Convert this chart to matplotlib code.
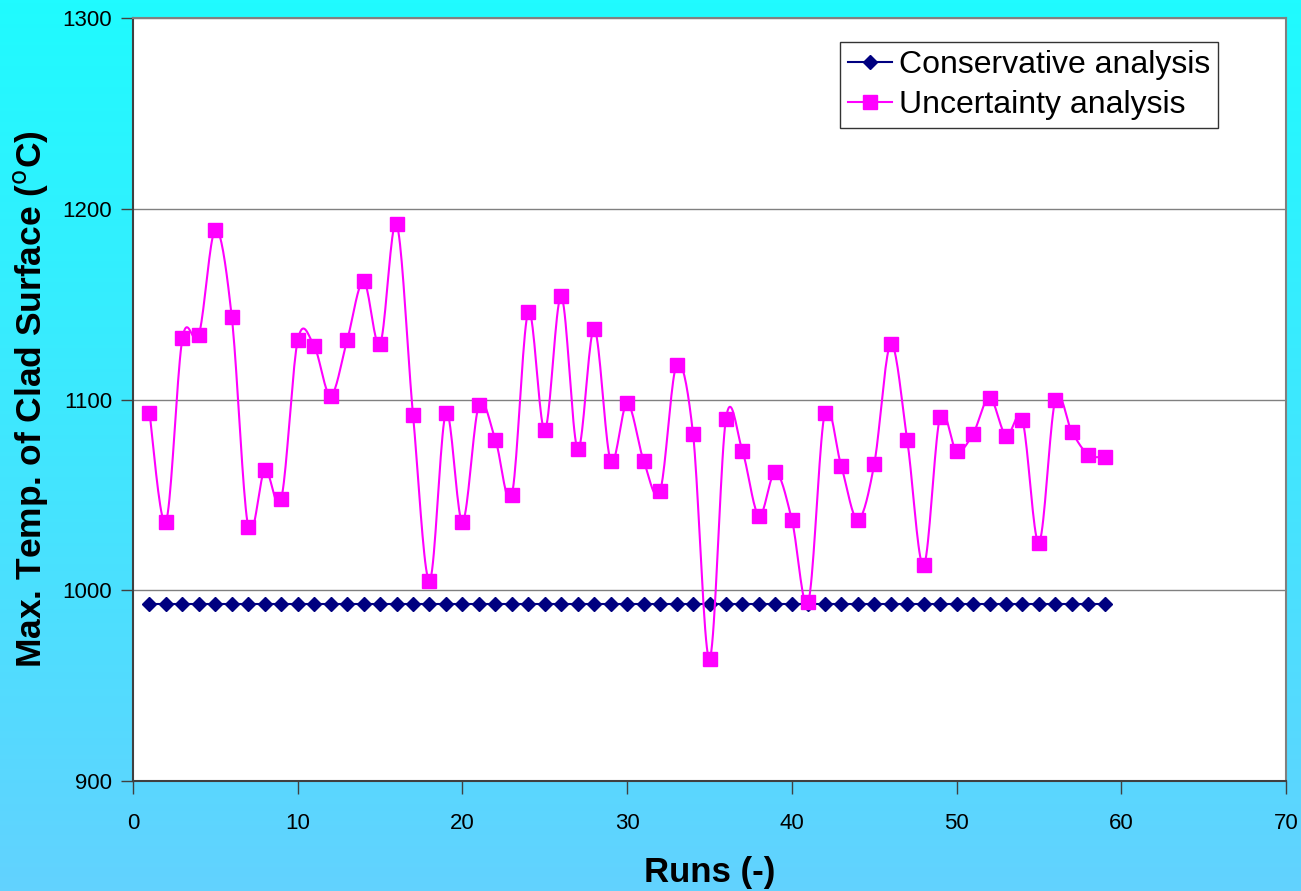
import numpy as np
import matplotlib.pyplot as plt
from matplotlib.colors import LinearSegmentedColormap

plt.rcParams['font.family'] = ['Liberation Sans', 'DejaVu Sans']

# run numbers and peak clad temperatures
runs = list(range(1, 60))
conservative = [993] * 59
uncertainty = [1093, 1036, 1132, 1134, 1189, 1143, 1033, 1063, 1048, 1131,
               1128, 1102, 1131, 1162, 1129, 1192, 1092, 1005, 1093, 1036,
               1097, 1079, 1050, 1146, 1084, 1154, 1074, 1137, 1068, 1098,
               1068, 1052, 1118, 1082, 964, 1090, 1073, 1039, 1062, 1037,
               994, 1093, 1065, 1037, 1066, 1129, 1079, 1013, 1091, 1073,
               1082, 1101, 1081, 1089, 1025, 1100, 1083, 1071, 1070]
xticks = [0, 10, 20, 30, 40, 50, 60, 70]
yticks = [900, 1000, 1100, 1200, 1300]


def smooth(x, y, n=20):
    # Catmull-Rom style bezier through every point (spreadsheet "smoothed line")
    x = np.asarray(x, float)
    y = np.asarray(y, float)
    px = np.concatenate([[x[0]], x, [x[-1]]])
    py = np.concatenate([[y[0]], y, [y[-1]]])
    t = np.linspace(0, 1, n)[:, None]
    xs, ys = [], []
    for i in range(1, len(px) - 2):
        p0 = np.array([px[i], py[i]])
        p3 = np.array([px[i + 1], py[i + 1]])
        c1 = p0 + (p3 - np.array([px[i - 1], py[i - 1]])) / 6
        c2 = p3 - (np.array([px[i + 2], py[i + 2]]) - p0) / 6
        pts = ((1 - t) ** 3) * p0 + 3 * ((1 - t) ** 2) * t * c1 \
            + 3 * (1 - t) * t ** 2 * c2 + t ** 3 * p3
        xs.append(pts[:, 0])
        ys.append(pts[:, 1])
    return np.concatenate(xs), np.concatenate(ys)


fig = plt.figure(figsize=(13.01, 8.91), dpi=100)

# background gradient, cyan at the top to light blue at the bottom
bg = fig.add_axes([0, 0, 1, 1], zorder=-10)
cmap = LinearSegmentedColormap.from_list('bg', ['#1ffbff', '#62d2fe'])
bg.imshow(np.linspace(0, 1, 256)[:, None], aspect='auto', cmap=cmap,
          extent=[0, 1, 0, 1])
bg.axis('off')

ax = fig.add_axes([133 / 1301, 110 / 891, 1153 / 1301, 763 / 891])
ax.set_facecolor('white')

ax.plot(runs, conservative, color='#000080', lw=1.5, marker='D', ms=7.5,
        label='Conservative analysis')
sx, sy = smooth(runs, uncertainty)
ax.plot(sx, sy, color='#ff00ff', lw=1.5)
ax.plot(runs, uncertainty, ls='none', color='#ff00ff', marker='s', ms=9.5)
ax.plot([], [], color='#ff00ff', lw=1.5, marker='s', ms=9.5,
        label='Uncertainty analysis')

ax.set_xlim(0, 70)
ax.set_ylim(900, 1300)
ax.set_xticks(xticks)
ax.set_yticks(yticks)
ax.yaxis.grid(True, color='#808080', lw=1)
ax.set_axisbelow(True)

ax.tick_params(axis='both', direction='out', length=9, width=1,
               color='#404040', labelsize=16)
ax.tick_params(axis='x', pad=14)
ax.tick_params(axis='y', pad=6)
for s in ['left', 'bottom']:
    ax.spines[s].set_color('#404040')
    ax.spines[s].set_linewidth(1.5)
for s in ['top', 'right']:
    ax.spines[s].set_color('#808080')
    ax.spines[s].set_linewidth(1.5)

ax.set_xlabel('Runs (-)', fontsize=25, fontweight='bold', labelpad=16)
ax.set_ylabel('Max. Temp. of Clad Surface ($^{\\mathrm{o}}$C)', fontsize=25.5,
              fontweight='bold', labelpad=9)

leg = ax.legend(loc='upper right', bbox_to_anchor=(0.941, 0.968), fontsize=23,
                frameon=True, fancybox=False, edgecolor='black',
                handlelength=1.4, handletextpad=0.2, borderpad=0.25,
                labelspacing=0.3, borderaxespad=0)
leg.get_frame().set_linewidth(1)

fig.savefig('out.png', dpi=100)
